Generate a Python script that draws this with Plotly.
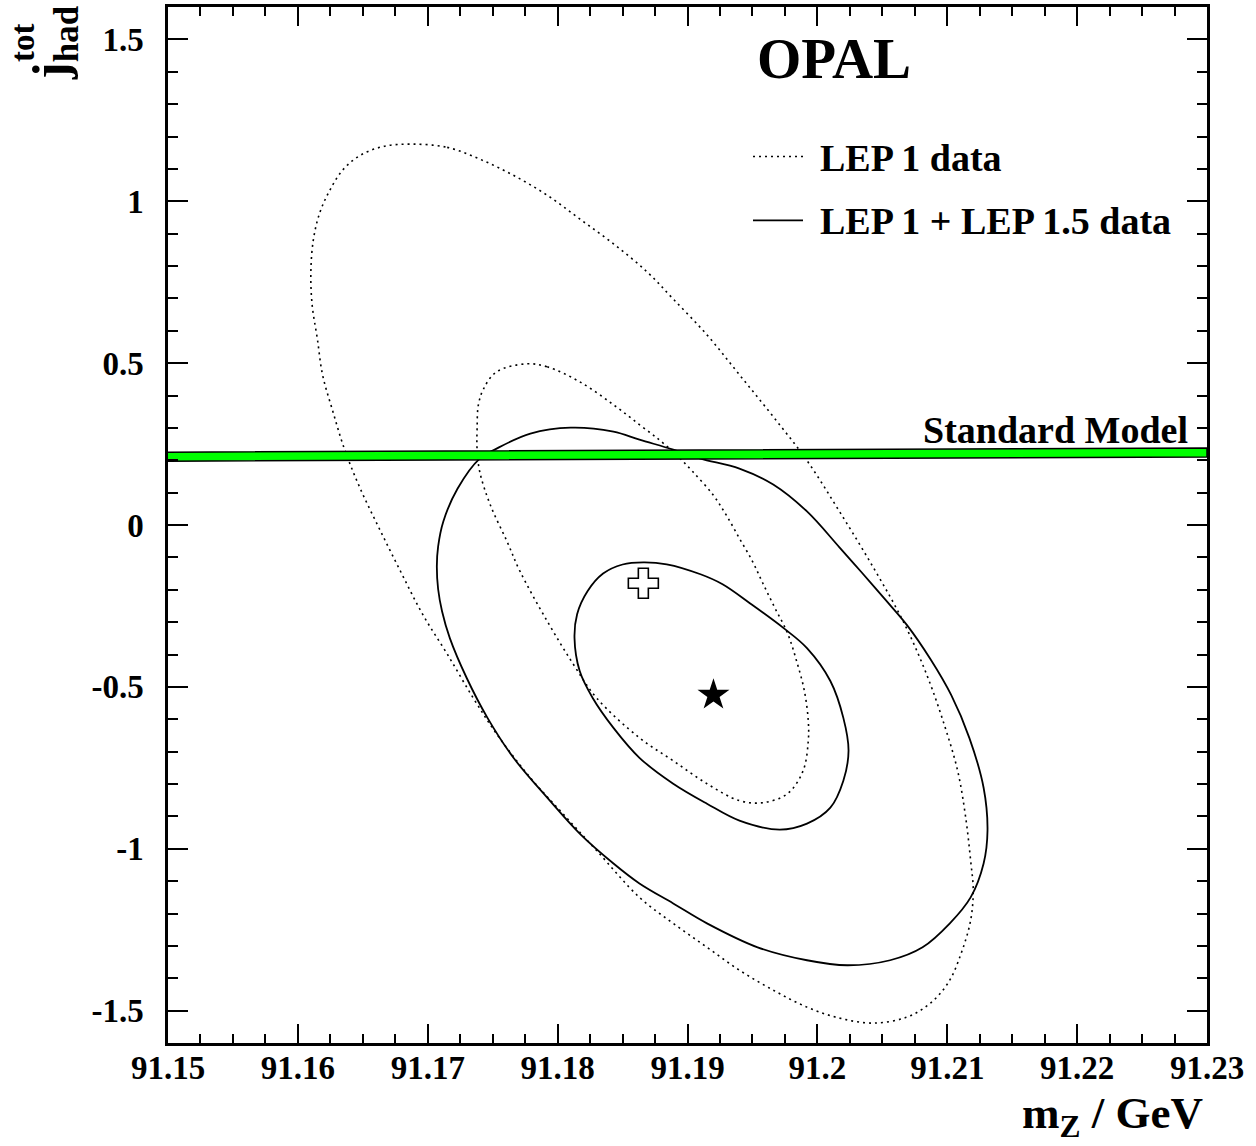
import plotly.graph_objects as go

# ---------------- data ----------------
# LEP 1 data, outer contour (dotted)
lep1_outer_mz = [91.1688, 91.1715, 91.1740, 91.1766, 91.1792, 91.1817, 91.1843, 91.1869,
                 91.1889, 91.1915, 91.1940, 91.1966, 91.1992, 91.2017, 91.2043, 91.2066,
                 91.2084, 91.2098, 91.2108, 91.2114, 91.2118, 91.2120, 91.2118, 91.2111,
                 91.2101, 91.2087, 91.2069, 91.2043, 91.2017, 91.1992, 91.1966, 91.1940,
                 91.1915, 91.1889, 91.1863, 91.1830, 91.1804, 91.1779, 91.1753, 91.1735,
                 91.1715, 91.1696, 91.1679, 91.1663, 91.1648, 91.1636, 91.1627, 91.1619,
                 91.1615, 91.1611, 91.1610, 91.1612, 91.1617, 91.1625, 91.1635, 91.1648,
                 91.1666, 91.1688]
lep1_outer_j = [1.1765, 1.1664, 1.1303, 1.0801, 1.0185, 0.9455, 0.8685, 0.7813,
                0.6981, 0.5872, 0.4640, 0.3346, 0.1990, 0.0419, -0.1306, -0.2970,
                -0.4603, -0.6205, -0.7591, -0.8977, -1.0364, -1.1288, -1.2212, -1.3198,
                -1.4122, -1.4769, -1.5200, -1.5385, -1.5231, -1.4892, -1.4368, -1.3752,
                -1.3044, -1.2304, -1.1503, -1.0055, -0.8916, -0.7807, -0.6451, -0.5342,
                -0.3986, -0.2754, -0.1429, -0.0136, 0.1128, 0.2329, 0.3500, 0.4640,
                0.5749, 0.6796, 0.7813, 0.8829, 0.9661, 1.0370, 1.0986, 1.1417,
                1.1694, 1.1765]

# LEP 1 data, inner contour (dotted)
lep1_inner_mz = [91.1776, 91.1792, 91.1817, 91.1843, 91.1863, 91.1879, 91.1892, 91.1904,
                 91.1920, 91.1930, 91.1940, 91.1950, 91.1958, 91.1967, 91.1977, 91.1984,
                 91.1990, 91.1993, 91.1993, 91.1989, 91.1977, 91.1958, 91.1940, 91.1915,
                 91.1889, 91.1863, 91.1830, 91.1812, 91.1792, 91.1771, 91.1761, 91.1748,
                 91.1740, 91.1738, 91.1738, 91.1739, 91.1743, 91.1753, 91.1776]
lep1_inner_j = [0.4978, 0.4886, 0.4424, 0.3715, 0.3099, 0.2606, 0.2144, 0.1651,
                0.0912, 0.0296, -0.0413, -0.1121, -0.1799, -0.2539, -0.3340, -0.4202,
                -0.5126, -0.6051, -0.6667, -0.7591, -0.8299, -0.8577, -0.8515, -0.7991,
                -0.7283, -0.6574, -0.5342, -0.4295, -0.2970, -0.1429, -0.0505, 0.0635,
                0.1651, 0.2329, 0.2976, 0.3715, 0.4208, 0.4732, 0.4978]

# LEP 1 + LEP 1.5 data, outer contour (solid)
lep15_outer_mz = [91.1810, 91.1843, 91.1863, 91.1889, 91.1910, 91.1940, 91.1966, 91.1992,
                  91.2017, 91.2034, 91.2052, 91.2069, 91.2087, 91.2103, 91.2117, 91.2128,
                  91.2131, 91.2128, 91.2118, 91.2102, 91.2081, 91.2056, 91.2023, 91.1992,
                  91.1954, 91.1915, 91.1889, 91.1863, 91.1843, 91.1817, 91.1792, 91.1766,
                  91.1746, 91.1730, 91.1717, 91.1711, 91.1708, 91.1707, 91.1708, 91.1712,
                  91.1723, 91.1740, 91.1753, 91.1779, 91.1810]
lep15_outer_j = [0.3007, 0.2884, 0.2637, 0.2329, 0.2052, 0.1744, 0.1251, 0.0419,
                 -0.0690, -0.1460, -0.2292, -0.3093, -0.4140, -0.5250, -0.6574, -0.8115,
                 -0.9439, -1.0456, -1.1503, -1.2304, -1.3044, -1.3444, -1.3598, -1.3444,
                 -1.3044, -1.2304, -1.1688, -1.1072, -1.0456, -0.9532, -0.8423, -0.7190,
                 -0.5958, -0.4726, -0.3494, -0.2662, -0.1984, -0.1275, -0.0659, 0.0111,
                 0.1128, 0.2052, 0.2360, 0.2822, 0.3007]

# LEP 1 + LEP 1.5 data, inner contour (solid)
lep15_inner_mz = [91.1866, 91.1884, 91.1910, 91.1927, 91.1948, 91.1974, 91.1992, 91.2010,
                  91.2020, 91.2024, 91.2020, 91.2010, 91.1992, 91.1971, 91.1940, 91.1915,
                  91.1889, 91.1863, 91.1843, 91.1827, 91.1817, 91.1813, 91.1815, 91.1823,
                  91.1835, 91.1850, 91.1866]
lep15_inner_j = [-0.1152, -0.1214, -0.1522, -0.1830, -0.2415, -0.3185, -0.3802, -0.4818,
                 -0.5958, -0.6975, -0.7899, -0.8731, -0.9224, -0.9409, -0.9131, -0.8608,
                 -0.7991, -0.7190, -0.6266, -0.5342, -0.4510, -0.3494, -0.2754, -0.2046,
                 -0.1500, -0.1220, -0.1152]

# best fit points
cross_mz = [91.1866]
cross_j = [-0.180]
star_mz = [91.1920]
star_j = [-0.525]

# Standard Model band
sm_mz = [91.15, 91.23]
sm_lo = [0.197, 0.210]
sm_hi = [0.225, 0.238]

# axis ticks
x_tick_vals = [91.15, 91.16, 91.17, 91.18, 91.19, 91.20, 91.21, 91.22, 91.23]
x_tick_text = ["91.15", "91.16", "91.17", "91.18", "91.19", "91.2", "91.21", "91.22", "91.23"]
y_tick_vals = [-1.5, -1.0, -0.5, 0.0, 0.5, 1.0, 1.5]
y_tick_text = ["-1.5", "-1", "-0.5", "0", "0.5", "1", "1.5"]

# ---------------- figure ----------------
FONT = "Liberation Serif"
W, H = 1256, 1146
L, R, T, B = 168, 1207, 4, 1043


def pxx(x):
    return (x - L) / (R - L)


def pxy(y):
    return (B - y) / (B - T)


fig = go.Figure()

DOT = "2px,4px"
fig.add_trace(go.Scatter(x=lep1_outer_mz, y=lep1_outer_j, mode="lines",
                         line=dict(color="black", width=1.6, dash=DOT, shape="spline", smoothing=1),
                         showlegend=False, hoverinfo="skip"))
fig.add_trace(go.Scatter(x=lep1_inner_mz, y=lep1_inner_j, mode="lines",
                         line=dict(color="black", width=1.6, dash=DOT, shape="spline", smoothing=1),
                         showlegend=False, hoverinfo="skip"))
fig.add_trace(go.Scatter(x=lep15_outer_mz, y=lep15_outer_j, mode="lines",
                         line=dict(color="black", width=1.8, shape="spline", smoothing=1),
                         showlegend=False, hoverinfo="skip"))
fig.add_trace(go.Scatter(x=lep15_inner_mz, y=lep15_inner_j, mode="lines",
                         line=dict(color="black", width=1.8, shape="spline", smoothing=1),
                         showlegend=False, hoverinfo="skip"))

# Standard Model band
fig.add_trace(go.Scatter(x=sm_mz + sm_mz[::-1], y=sm_hi + sm_lo[::-1], mode="lines",
                         fill="toself", fillcolor="#00ff00",
                         line=dict(color="black", width=1.5),
                         showlegend=False, hoverinfo="skip"))

fig.add_trace(go.Scatter(x=cross_mz, y=cross_j, mode="markers",
                         marker=dict(symbol="cross", size=25, color="white",
                                     line=dict(color="black", width=1.6)),
                         showlegend=False, hoverinfo="skip"))
fig.add_trace(go.Scatter(x=star_mz, y=star_j, mode="markers",
                         marker=dict(symbol="star", size=24, color="black",
                                     line=dict(color="black", width=0)),
                         showlegend=False, hoverinfo="skip"))

axis_common = dict(
    showgrid=False, zeroline=False, showline=True, linecolor="black", linewidth=2.5,
    mirror="allticks", ticks="inside", tickcolor="black", tickwidth=1.5,
    tickfont=dict(family=FONT, size=33, color="black", weight="bold"),
)

fig.update_xaxes(range=[91.15, 91.23], tickmode="array", tickvals=x_tick_vals, ticktext=x_tick_text,
                 ticklen=19, ticklabelstandoff=-6,
                 minor=dict(tickmode="linear", tick0=91.15, dtick=0.0025, ticklen=9,
                            ticks="inside", tickcolor="black", tickwidth=1.5),
                 **axis_common)
fig.update_yaxes(range=[-1.6, 1.6], tickmode="array", tickvals=y_tick_vals, ticktext=y_tick_text,
                 ticklen=20, ticklabelstandoff=15,
                 minor=dict(tickmode="linear", tick0=-1.6, dtick=0.1, ticklen=10,
                            ticks="inside", tickcolor="black", tickwidth=1.5),
                 **axis_common)

annotations = [
    dict(text="OPAL", x=pxx(834), y=pxy(56), xanchor="center", yanchor="middle",
         font=dict(family=FONT, size=57, color="black", weight="bold")),
    dict(text="LEP 1 data", x=pxx(818), y=pxy(155), xanchor="left", yanchor="middle",
         font=dict(family=FONT, size=38, color="black", weight="bold")),
    dict(text="LEP 1 + LEP 1.5 data", x=pxx(818), y=pxy(219), xanchor="left", yanchor="middle",
         font=dict(family=FONT, size=38, color="black", weight="bold")),
    dict(text="Standard Model", x=pxx(1190), y=pxy(428), xanchor="right", yanchor="middle",
         font=dict(family=FONT, size=38, color="black", weight="bold")),
    dict(text="m<sub>Z</sub> / GeV", x=pxx(1205), y=pxy(1116), xanchor="right", yanchor="middle",
         font=dict(family=FONT, size=45, color="black", weight="bold")),
    dict(text="j<sub>had</sub>", x=pxx(54), y=pxy(40), xanchor="center", yanchor="middle",
         textangle=-90, font=dict(family=FONT, size=50, color="black", weight="bold")),
    dict(text="tot", x=pxx(23), y=pxy(40), xanchor="center", yanchor="middle",
         textangle=-90, font=dict(family=FONT, size=33, color="black", weight="bold")),
]
for a in annotations:
    a.update(xref="paper", yref="paper", showarrow=False)

shapes = [
    dict(type="line", xref="paper", yref="paper", x0=pxx(753), x1=pxx(803), y0=pxy(154), y1=pxy(154),
         line=dict(color="black", width=1.6, dash=DOT)),
    dict(type="line", xref="paper", yref="paper", x0=pxx(753), x1=pxx(803), y0=pxy(218), y1=pxy(218),
         line=dict(color="black", width=1.8)),
]

fig.update_layout(
    width=W, height=H,
    margin=dict(l=L, r=W - R, t=T, b=H - B),
    paper_bgcolor="white", plot_bgcolor="white",
    annotations=annotations, shapes=shapes,
    showlegend=False,
)

fig.write_html("out.html", config={"displayModeBar": False},
               post_script="document.body.style.margin='0';")
